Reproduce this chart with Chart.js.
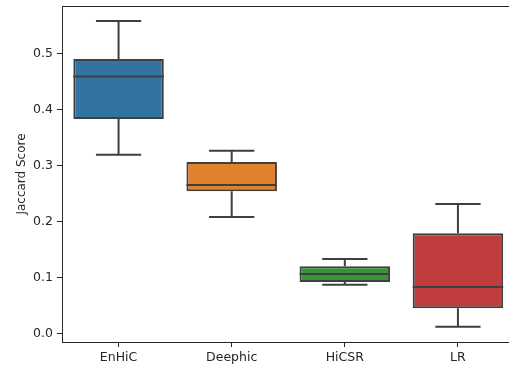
<!DOCTYPE html>
<html>
<head>
<meta charset="utf-8">
<script src="https://cdn.jsdelivr.net/npm/chart.js@4/dist/chart.umd.min.js"></script>
<style>
  html, body { margin: 0; padding: 0; background: #fff; overflow: hidden; }
  #wrap { width: 516px; height: 368px; }
</style>
</head>
<body>
<div id="wrap"><canvas id="boxChart"></canvas></div>
<script>
// data
const methods = ['EnHiC', 'Deephic', 'HiCSR', 'LR'];
const whiskerLow = [0.320, 0.209, 0.088, 0.013];
const q1 = [0.384, 0.255, 0.093, 0.046];
const median = [0.460, 0.266, 0.107, 0.084];
const q3 = [0.491, 0.307, 0.121, 0.180];
const whiskerHigh = [0.559, 0.327, 0.134, 0.232];
const yTicks = [0.0, 0.1, 0.2, 0.3, 0.4, 0.5];

const boxColors = ['#3274a1', '#e1812c', '#3a923a', '#c03d3e'];
const lineColor = '#3f3f3f';

// whiskers, caps, medians and the top/right spines
const boxExtras = {
    id: 'boxExtras',
    afterDatasetsDraw(chart) {
        const ctx = chart.ctx;
        const y = chart.scales.y;
        const meta = chart.getDatasetMeta(0);
        ctx.save();
        ctx.strokeStyle = lineColor;
        ctx.lineWidth = 2;
        meta.data.forEach((bar, i) => {
            const cx = bar.x;
            const half = bar.width / 2;
            const cap = bar.width / 4;
            ctx.beginPath();
            // upper whisker
            ctx.moveTo(cx, y.getPixelForValue(q3[i]));
            ctx.lineTo(cx, y.getPixelForValue(whiskerHigh[i]));
            ctx.moveTo(cx - cap, y.getPixelForValue(whiskerHigh[i]));
            ctx.lineTo(cx + cap, y.getPixelForValue(whiskerHigh[i]));
            // lower whisker
            ctx.moveTo(cx, y.getPixelForValue(q1[i]));
            ctx.lineTo(cx, y.getPixelForValue(whiskerLow[i]));
            ctx.moveTo(cx - cap, y.getPixelForValue(whiskerLow[i]));
            ctx.lineTo(cx + cap, y.getPixelForValue(whiskerLow[i]));
            // median
            ctx.moveTo(cx - half, y.getPixelForValue(median[i]));
            ctx.lineTo(cx + half, y.getPixelForValue(median[i]));
            ctx.stroke();
        });
        const a = chart.chartArea;
        ctx.strokeStyle = '#262626';
        ctx.lineWidth = 1;
        ctx.beginPath();
        ctx.moveTo(a.left, a.top + 0.5);
        ctx.lineTo(a.right, a.top + 0.5);
        ctx.lineTo(a.right, a.bottom);
        ctx.stroke();
        ctx.restore();
    }
};

Chart.defaults.font.family = 'DejaVu Sans';
Chart.defaults.font.size = 12.5;
Chart.defaults.color = '#262626';

const boxCtx = document.getElementById('boxChart').getContext('2d');
const boxChart = new Chart(boxCtx, {
    type: 'bar',
    data: {
        labels: methods,
        datasets: [{
            data: methods.map((m, i) => [q1[i], q3[i]]),
            backgroundColor: boxColors,
            borderColor: lineColor,
            borderWidth: 2,
            borderSkipped: false,
            categoryPercentage: 0.8,
            barPercentage: 1.0
        }]
    },
    options: {
        responsive: true,
        maintainAspectRatio: false,
        animation: false,
        layout: { padding: { top: 6, right: 1.5, left: 0, bottom: 0 } },
        plugins: {
            legend: { display: false },
            tooltip: { enabled: false }
        },
        scales: {
            x: {
                grid: {
                    offset: false,
                    drawOnChartArea: false,
                    tickLength: 5,
                    color: '#262626'
                },
                border: { color: '#262626', width: 1 },
                ticks: { padding: 3, color: '#262626' },
                afterFit(scale) {
                    scale.height = 26;
                    scale.paddingLeft = 0;
                    scale.paddingRight = 0;
                }
            },
            y: {
                min: -0.0143,
                max: 0.5857,
                afterBuildTicks(axis) {
                    axis.ticks = yTicks.map(v => ({ value: v }));
                },
                grid: {
                    drawOnChartArea: false,
                    tickLength: 5,
                    color: '#262626'
                },
                border: { color: '#262626', width: 1 },
                ticks: {
                    padding: 4,
                    color: '#262626',
                    callback: v => v.toFixed(1)
                },
                title: {
                    display: true,
                    text: 'Jaccard Score',
                    color: '#262626',
                    font: { size: 12 },
                    padding: { top: 15, bottom: 0 }
                },
                afterFit(scale) {
                    scale.width = 62;
                    scale.paddingTop = 0;
                    scale.paddingBottom = 0;
                }
            }
        }
    },
    plugins: [boxExtras]
});
</script>
</body>
</html>
